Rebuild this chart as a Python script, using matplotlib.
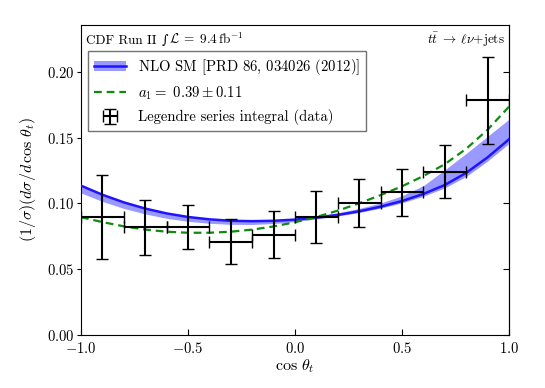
import matplotlib
matplotlib.use("Agg")
import matplotlib.pyplot as plt
from matplotlib.patches import Patch

plt.rcParams['font.family'] = ['cmr10', 'DejaVu Serif']
plt.rcParams['mathtext.fontset'] = 'cm'
plt.rcParams['axes.formatter.use_mathtext'] = True
plt.rcParams['axes.unicode_minus'] = True

# data (Legendre series integral) per bin
bin_centers = [-0.9, -0.7, -0.5, -0.3, -0.1, 0.1, 0.3, 0.5, 0.7, 0.9]
bin_halfwidth = [0.1] * 10
data_vals = [0.0897, 0.0818, 0.0820, 0.0709, 0.0762, 0.0897, 0.1004, 0.1085, 0.1242, 0.1783]
data_errs = [0.0320, 0.0210, 0.0165, 0.0170, 0.0180, 0.0200, 0.0182, 0.0180, 0.0200, 0.0330]

# theory curves sampled
curve_x = [-1.0, -0.9, -0.8, -0.7, -0.6, -0.5, -0.4, -0.3, -0.2, -0.1, 0.0,
           0.1, 0.2, 0.3, 0.4, 0.5, 0.6, 0.7, 0.8, 0.9, 1.0]
nlo_sm = [0.1135, 0.1066, 0.1008, 0.0961, 0.0924, 0.0897, 0.0879, 0.0868, 0.0865, 0.0868, 0.0877,
          0.0892, 0.0913, 0.0940, 0.0975, 0.1018, 0.1072, 0.1140, 0.1232, 0.1350, 0.1487]
nlo_lo = [0.1080, 0.1015, 0.0962, 0.0920, 0.0887, 0.0864, 0.0849, 0.0841, 0.0840, 0.0847, 0.0862,
          0.0882, 0.0904, 0.0931, 0.0964, 0.1004, 0.1055, 0.1118, 0.1205, 0.1322, 0.1455]
nlo_hi = [0.1142, 0.1072, 0.1014, 0.0967, 0.0929, 0.0902, 0.0884, 0.0873, 0.0870, 0.0873, 0.0884,
          0.0902, 0.0928, 0.0962, 0.1003, 0.1058, 0.1135, 0.1255, 0.1380, 0.1510, 0.1640]
a1_fit = [0.0895, 0.0858, 0.0826, 0.0801, 0.0785, 0.0777, 0.0777, 0.0785, 0.0801, 0.0825, 0.0857,
          0.0897, 0.0945, 0.1001, 0.1063, 0.1130, 0.1208, 0.1298, 0.1415, 0.1560, 0.1735]

x_ticks = [-1.0, -0.5, 0.0, 0.5, 1.0]
y_ticks = [0.00, 0.05, 0.10, 0.15, 0.20]

fig = plt.figure(figsize=(5.45, 3.88), dpi=100)
ax = fig.add_axes([0.1486, 0.1366, 0.7853, 0.799])

band = ax.fill_between(curve_x, nlo_lo, nlo_hi, color=(0.6, 0.6, 1.0), lw=0, zorder=2)
line_sm, = ax.plot(curve_x, nlo_sm, color=(0.12, 0.08, 1.0), lw=1.8, zorder=3)
line_a1, = ax.plot(curve_x, a1_fit, color=(0.05, 0.55, 0.05), lw=1.6, ls=(0, (3.5, 2.2)), zorder=4)
eb = ax.errorbar(bin_centers, data_vals, xerr=bin_halfwidth, yerr=data_errs, fmt='none',
                 ecolor='black', elinewidth=1.5, capsize=4, capthick=1.0, zorder=5)

ax.set_xlim(-1.0, 1.0)
ax.set_ylim(0.0, 0.2356)
ax.set_xticks(x_ticks)
ax.set_yticks(y_ticks)
ax.set_xticklabels(['$-1.0$', '$-0.5$', '$0.0$', '$0.5$', '$1.0$'])
ax.set_yticklabels(['$0.00$', '$0.05$', '$0.10$', '$0.15$', '$0.20$'])
ax.tick_params(axis='x', direction='in', top=False, length=4, labelsize=10.5, pad=4)
ax.tick_params(axis='y', direction='out', right=False, length=3, labelsize=10.5, pad=2)
sec = ax.secondary_yaxis('right')
sec.set_yticks(y_ticks)
sec.tick_params(direction='in', length=4, labelright=False)

ax.set_xlabel(r'$\cos\,\theta_t$', fontsize=11.5, labelpad=1)
ax.set_ylabel(r'$(1/\sigma)(d\sigma/d\,\cos\,\theta_t)$', fontsize=11.5, labelpad=6)

base_y = 0.94
t1 = ax.text(0.012, base_y, 'CDF Run II ', transform=ax.transAxes,
             ha='left', va='baseline', fontsize=9.5)
t2 = ax.annotate('\u222b', xy=(1, base_y), xycoords=(t1, ax.transAxes),
                 xytext=(0.5, 0), textcoords='offset points',
                 ha='left', va='baseline', fontsize=9, family='DejaVu Serif')
t3 = ax.annotate(r'$\mathcal{L}\;=\;9.4\,\mathrm{fb}^{-1}$', xy=(1, base_y),
                 xycoords=(t2, ax.transAxes), xytext=(0.5, 0), textcoords='offset points',
                 ha='left', va='baseline', fontsize=9.5)
ax.text(0.99, base_y, r'$t\bar{t}\;\rightarrow\;\ell\nu{+}\mathrm{jets}$',
        transform=ax.transAxes, ha='right', va='baseline', fontsize=9.5)

patch = Patch(facecolor=(0.6, 0.6, 1.0), edgecolor='none')
leg = ax.legend([(patch, line_sm), line_a1, eb],
                [r'NLO SM [PRD $\mathbf{86}$, 034026 (2012)]',
                 r'$a_1 =\ 0.39 \pm 0.11$',
                 'Legendre series integral (data)'],
                loc='upper left', bbox_to_anchor=(0.016, 0.915), borderaxespad=0,
                fontsize=10.6, fancybox=False, framealpha=1, edgecolor='0.45',
                handlelength=2.2, labelspacing=0.5, borderpad=0.4, handletextpad=0.8)
leg.get_frame().set_linewidth(1.0)

fig.savefig('out.png', dpi=100)
